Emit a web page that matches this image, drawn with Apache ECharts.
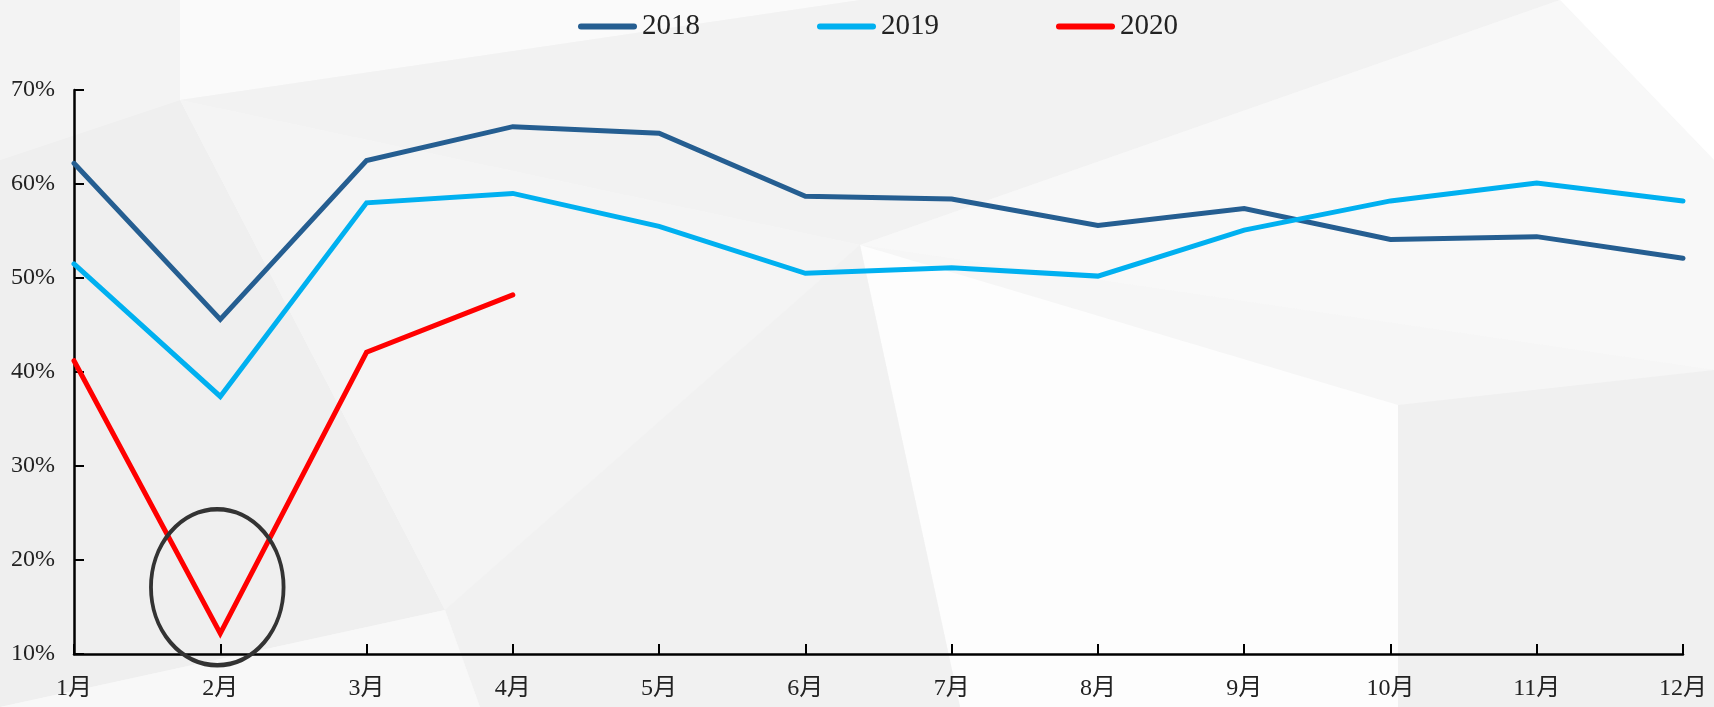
<!DOCTYPE html>
<html><head><meta charset="utf-8">
<script src="https://cdn.jsdelivr.net/npm/echarts@6/dist/echarts.min.js"></script>
<style>html,body{margin:0;padding:0;background:#f6f6f6}#c{width:1714px;height:707px}</style>
</head><body><div id="c"></div>
<script>
const months = ['1月','2月','3月','4月','5月','6月','7月','8月','9月','10月','11月','12月'];
const s2018 = [62.2, 45.6, 62.5, 66.1, 65.4, 58.7, 58.4, 55.6, 57.4, 54.1, 54.4, 52.1];
const s2019 = [51.5, 37.4, 58.0, 59.0, 55.5, 50.5, 51.1, 50.2, 55.1, 58.2, 60.1, 58.2];
const s2020 = [41.2, 12.2, 42.1, 48.2];
const seriesNames = ['2018','2019','2020'];
const colors = ['#255E91','#00B0F0','#FF0000'];
const yTicks = {min:10, max:70, interval:10};
const highlight = {cat:'2月', value:17.1};

const font = '"Liberation Serif","DejaVu Serif","Noto Sans CJK SC",serif';
const chart = echarts.init(document.getElementById('c'));

const bg = [
  {pts:[[0,0],[180,0],[180,100],[0,160]], fill:'#f3f3f3'},
  {pts:[[180,0],[860,0],[180,100]], fill:'#fafafa'},
  {pts:[[180,100],[860,0],[1560,0],[860,245]], fill:'#f2f2f2'},
  {pts:[[0,160],[180,100],[445,610],[0,707]], fill:'#efefef'},
  {pts:[[180,100],[860,245],[445,610]], fill:'#f4f4f4'},
  {pts:[[860,245],[1560,0],[1714,160],[1714,370]], fill:'#f8f8f8'},
  {pts:[[860,245],[1714,370],[1398,405]], fill:'#f6f6f6'},
  {pts:[[860,245],[1398,405],[1398,707],[960,707]], fill:'#fdfdfd'},
  {pts:[[445,610],[860,245],[960,707],[480,707]], fill:'#f1f1f1'},
  {pts:[[1398,405],[1714,370],[1714,707],[1398,707]], fill:'#f0f0f0'},
  {pts:[[0,707],[445,610],[480,707]], fill:'#f8f8f8'},
  {pts:[[1560,0],[1714,0],[1714,160]], fill:'#ffffff'}
];
const bgGraphics = bg.map(b => ({type:'polygon', z:-10, silent:true, shape:{points:b.pts}, style:{fill:b.fill}}));

const dataSets = [s2018, s2019, s2020];
const iconPath = 'path://M3,0 L56,0 A3,3 0 0 1 56,6 L3,6 A3,3 0 0 1 3,0 Z';
chart.setOption({
  backgroundColor:'#f6f6f6',
  animation:false,
  color: colors,
  textStyle:{fontFamily:font},
  legend:{
    top:7, left:573, itemWidth:59, itemHeight:6, itemGap:117,
    textStyle:{fontFamily:font, fontSize:29, color:'#222'},
    data: seriesNames.map(n => ({name:n, icon:iconPath}))
  },
  grid:{left:74, right:31, top:90, bottom:53, containLabel:false},
  xAxis:{
    type:'category', data:months, boundaryGap:false,
    axisLine:{lineStyle:{color:'#000', width:2.5}},
    axisTick:{inside:true, length:10, lineStyle:{color:'#000', width:2}, alignWithLabel:true},
    axisLabel:{fontFamily:font, fontSize:24, color:'#222', margin:23, interval:0},
    splitLine:{show:false}
  },
  yAxis:{
    type:'value', min:yTicks.min, max:yTicks.max, interval:yTicks.interval,
    axisLine:{show:true, lineStyle:{color:'#000', width:2.5}},
    axisTick:{show:true, inside:true, length:10, lineStyle:{color:'#000', width:2}},
    axisLabel:{fontFamily:font, fontSize:24, color:'#222', margin:19, formatter:'{value}%'},
    splitLine:{show:false}
  },
  series: seriesNames.map((n,i) => ({
    name:n, type:'line', data:dataSets[i], symbol:'none',
    lineStyle:{width:5, color:colors[i], cap:'round', join:'miter'},
    itemStyle:{color:colors[i]}
  })),
  graphic: bgGraphics
});

const c = chart.convertToPixel({xAxisIndex:0, yAxisIndex:0}, [highlight.cat, highlight.value]);
chart.setOption({
  graphic: bgGraphics.concat([{
    type:'circle', id:'ring', z:100, silent:true,
    x:c[0]-3, y:c[1], scaleX:0.85, scaleY:1,
    shape:{cx:0, cy:0, r:78},
    style:{fill:'none', stroke:'#333', lineWidth:4.5, strokeNoScale:true}
  }])
});
</script></body></html>
